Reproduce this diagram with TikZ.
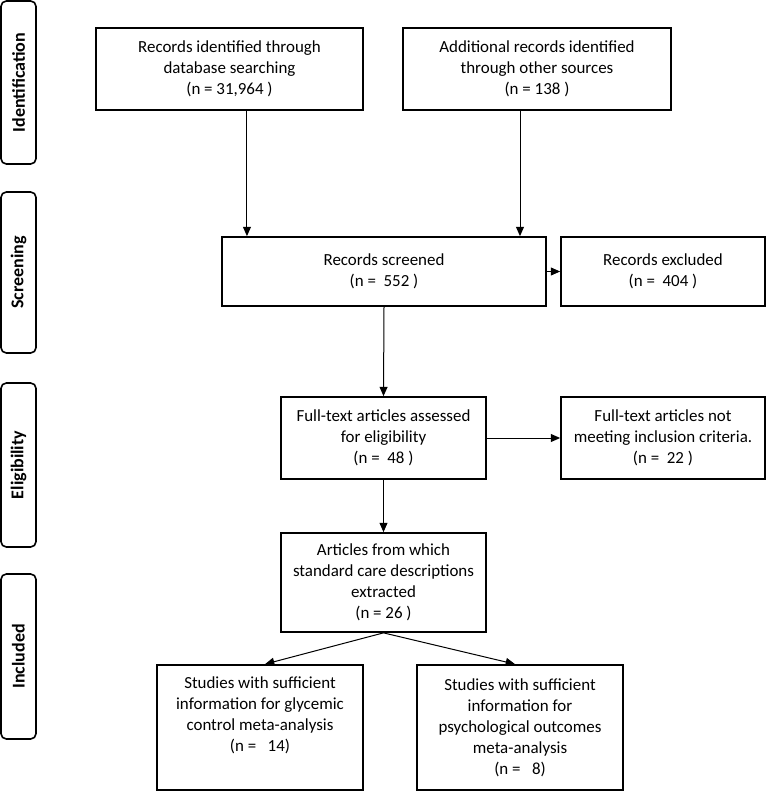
\documentclass[tikz,border=0pt]{standalone}
\usepackage{fontspec}
\setmainfont{Carlito}
\usetikzlibrary{arrows.meta}
\begin{document}
\begin{tikzpicture}[x=0.75pt,y=-0.75pt,
  box/.style={draw,line width=1.3pt,align=center,inner sep=0pt,
    font=\fontsize{12.7}{15.7}\selectfont},
  side/.style={draw,line width=1.2pt,rounded corners=4pt,inner sep=0pt,
    minimum width=26.25pt,font=\fontsize{13.5}{16}\selectfont\bfseries},
  arr/.style={line width=0.75pt,-{Triangle[length=7pt,width=6pt]}}]
\useasboundingbox (0,0) rectangle (767,792);
% side labels
\node[side,minimum height=122.25pt] (sid) at (18.5,82.5) {\rotatebox{90}{Identification}};
\node[side,minimum height=120.75pt] (ssc) at (18.5,272.5) {\rotatebox{90}{Screening}};
\node[side,minimum height=123pt] (sel) at (18.5,465) {\rotatebox{90}{Eligibility}};
\node[side,minimum height=123.75pt] (sin) at (18.5,656.5) {\rotatebox{90}{Included}};
% boxes
\node[box,minimum width=200.25pt,minimum height=61.5pt] (db) at (229.5,69)
  {Records identified through\\database searching\\(n = 31,964 )};
\node[box,minimum width=201pt,minimum height=61.5pt] (oth) at (537,69)
  {Additional records identified\\through other sources\\(n = 138 )};
\node[box,minimum width=243pt,minimum height=51.75pt] (scr) at (384,271.5)
  {Records screened\\(n =~ 552 )};
\node[box,minimum width=153pt,minimum height=51.75pt] (exc) at (663,271.5)
  {Records excluded\\(n =~ 404 )};
\node[box,minimum width=153.75pt,minimum height=61.5pt] (ft) at (383.5,438)
  {Full-text articles assessed\\for eligibility\\(n =~ 48 )};
\node[box,minimum width=153pt,minimum height=61.5pt] (nm) at (663,438)
  {Full-text articles not\\meeting inclusion criteria.\\(n =~ 22 )};
\node[box,minimum width=153.75pt,minimum height=74.25pt] (art) at (383.5,582.5)
  {Articles from which\\standard care descriptions\\extracted\\(n = 26 )};
\node[box,minimum width=154.5pt,minimum height=93.75pt] (gly) at (260,727.5)
  {Studies with sufficient\\information for glycemic\\control meta-analysis\\(n =~~~14)\\\strut};
\node[box,minimum width=154.5pt,minimum height=93.75pt] (psy) at (520,727.5)
  {Studies with sufficient\\information for\\psychological outcomes\\meta-analysis\\(n =~~~8)};
% connectors
\draw[arr] ([xshift=13.1pt]db.south) -- ([xshift=13.1pt]db.south |- scr.north);
\draw[arr] ([xshift=-12.75pt]oth.south) -- ([xshift=-12.75pt]oth.south |- scr.north);
\draw[arr] (scr.east) -- (exc.west);
\draw[arr] (scr.south) -- (ft.north);
\draw[arr] (ft.east) -- (nm.west);
\draw[arr] (ft.south) -- (art.north);
\draw[arr] (art.south) -- ([xshift=3.75pt]gly.north);
\draw[arr] (art.south) -- ([xshift=-3.75pt]psy.north);
\end{tikzpicture}
\end{document}
